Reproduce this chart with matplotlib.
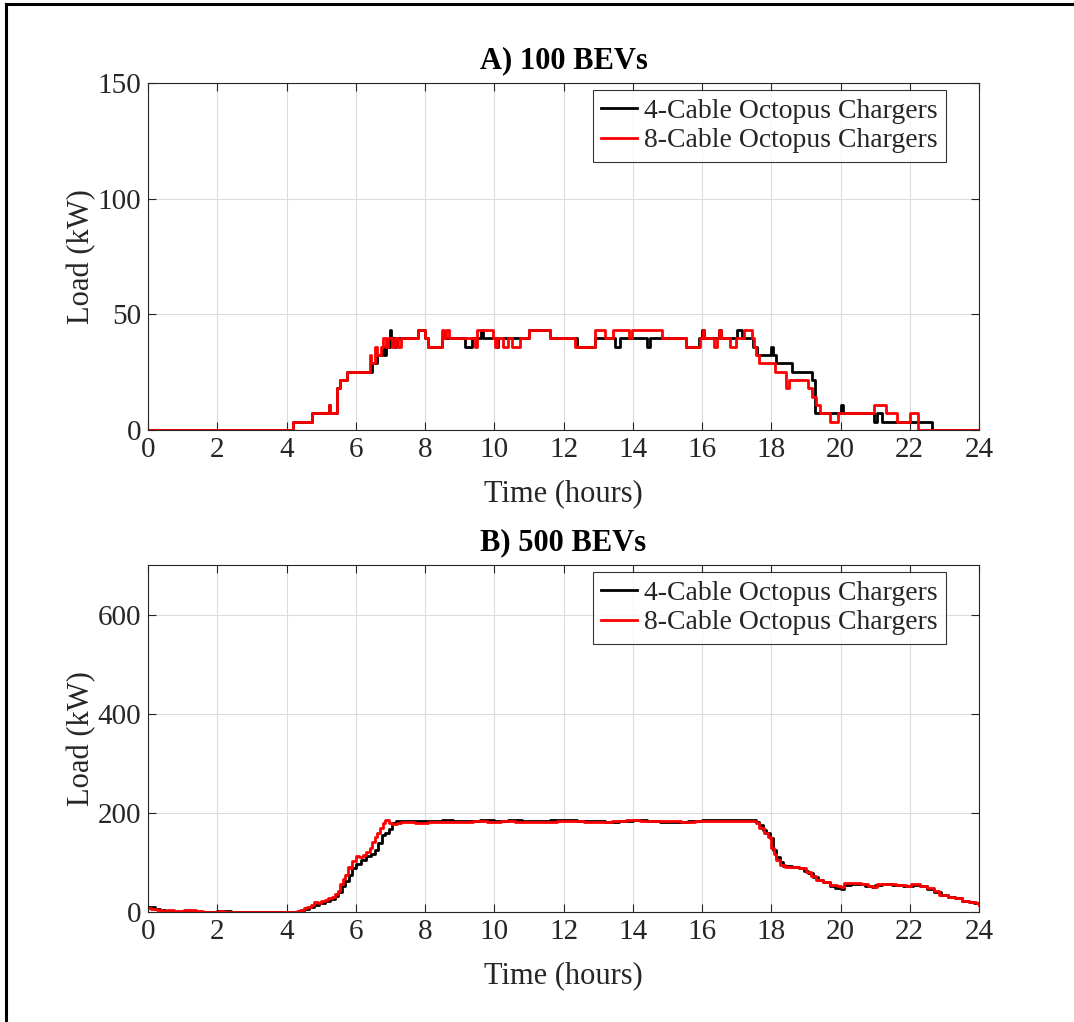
import numpy as np
import matplotlib
matplotlib.use("Agg")
import matplotlib.pyplot as plt
from matplotlib.lines import Line2D

plt.rcParams['font.family'] = ['Liberation Serif', 'DejaVu Serif']
plt.rcParams['mathtext.fontset'] = 'stix'

# ---------------- data ----------------
# A) 100 BEVs: change points (hour, kW), held until the next change
a_cable4_t = [0, 4.20, 4.73, 5.22, 5.27, 5.47, 5.55, 5.74, 6.46, 6.62, 6.75, 6.82, 6.88,
              6.98, 7.03, 7.10, 7.15, 7.81, 8.00, 8.09, 8.48, 9.15, 9.35, 9.62, 9.68,
              10.05, 10.10, 10.99, 11.61, 12.38, 12.92, 13.50, 13.62, 14.42, 14.50,
              15.54, 15.92, 16.00, 16.05, 16.50, 16.55, 17.00, 17.16, 17.46, 17.58,
              18.00, 18.06, 18.15, 18.60, 19.18, 19.26, 20.02, 20.06, 20.96, 21.04,
              21.20, 22.63, 24.0]
a_cable4_kw = [0, 3.6, 7.2, 10.8, 7.2, 18, 21.6, 25.2, 28.8, 32.4, 36, 32.4, 36,
               43.2, 39.6, 36, 39.6, 43.2, 39.6, 36, 39.6, 36, 39.6, 43.2, 39.6,
               36, 39.6, 43.2, 39.6, 36, 39.6, 36, 39.6, 36, 39.6,
               36, 39.6, 43.2, 39.6, 43.2, 39.6, 43.2, 39.6, 36, 32.4,
               36, 32.4, 28.8, 25.2, 21.6, 7.2, 10.8, 7.2, 3.6, 7.2,
               3.6, 0, 0]

a_cable8_t = [0, 4.20, 4.73, 5.22, 5.27, 5.47, 5.55, 5.74, 6.40, 6.45, 6.55, 6.62, 6.72,
              6.80, 6.86, 6.92, 7.05, 7.12, 7.22, 7.30, 7.81, 8.00, 8.09, 8.48, 8.50,
              8.56, 8.62, 8.68, 9.44, 9.50, 9.97, 10.02, 10.09, 10.24, 10.41, 10.50,
              10.74, 10.99, 11.61, 12.34, 12.92, 13.20, 13.42, 13.90, 13.97, 14.85,
              15.55, 15.95, 16.02, 16.07, 16.34, 16.43, 16.50, 16.55, 16.81, 16.97,
              17.22, 17.44, 17.50, 17.57, 17.64, 18.10, 18.44, 18.50, 19.06, 19.18,
              19.30, 19.42, 19.69, 19.93, 20.96, 21.30, 21.62, 22.00, 22.25, 24.0]
a_cable8_kw = [0, 3.6, 7.2, 10.8, 7.2, 18, 21.6, 25.2, 32.4, 28.8, 36, 32.4, 36,
               39.6, 36, 39.6, 36, 39.6, 36, 39.6, 43.2, 39.6, 36, 39.6, 43.2,
               39.6, 43.2, 39.6, 36, 43.2, 39.6, 36, 39.6, 36, 39.6, 36,
               39.6, 43.2, 39.6, 36, 43.2, 39.6, 43.2, 39.6, 43.2, 39.6,
               36, 39.6, 43.2, 39.6, 36, 39.6, 43.2, 39.6, 36, 39.6,
               43.2, 39.6, 36, 32.4, 28.8, 25.2, 18, 21.6, 18, 14.4,
               10.8, 7.2, 3.6, 7.2, 10.8, 7.2, 3.6, 7.2, 0, 0]

# B) 500 BEVs: change points (hour, kW)
b_cable4_t = [0, 0.10, 0.20, 0.35, 0.50, 0.75, 1.00, 1.30, 1.60, 2.00, 2.25, 2.40,
              4.25, 4.35, 4.50, 4.65, 4.80, 4.95, 5.10, 5.25, 5.40, 5.50, 5.60, 5.70,
              5.80, 5.90, 6.00, 6.15, 6.30, 6.45, 6.55, 6.65, 6.75, 6.85, 6.95, 7.05,
              7.15, 7.60, 8.00, 8.50, 8.80, 9.20, 9.60, 10.00, 10.40, 10.80, 11.20,
              11.60, 12.00, 12.40, 12.80, 13.20, 13.60, 14.00, 14.40, 14.80, 15.20,
              15.60, 16.00, 16.40, 16.80, 17.20, 17.45, 17.55, 17.65, 17.75, 17.85,
              17.95, 18.05, 18.15, 18.25, 18.35, 18.60, 18.80, 18.95, 19.05, 19.20,
              19.35, 19.50, 19.70, 19.85, 20.00, 20.10, 20.30, 20.50, 20.70, 20.90,
              21.00, 21.20, 21.50, 21.80, 22.00, 22.10, 22.30, 22.50, 22.70, 22.90,
              23.10, 23.30, 23.50, 23.70, 23.85, 24.0]
b_cable4_kw = [11, 10, 7, 5, 2, 1, 0, 1, 0, 2, 2, 0,
               0, 2, 6, 10, 15, 19, 23, 27, 33, 40, 52, 62,
               75, 88, 97, 104, 112, 118, 125, 140, 155, 160, 168, 180,
               184, 183, 184, 186, 184, 183, 185, 184, 186, 183, 184,
               186, 185, 183, 184, 182, 184, 186, 184, 182, 181,
               183, 185, 186, 185, 185, 185, 182, 175, 166, 160,
               150, 125, 110, 100, 93, 91, 88, 83, 78, 70,
               64, 60, 53, 48, 47, 55, 57, 56, 52, 50,
               55, 57, 55, 53, 52, 55, 52, 47, 40, 35,
               30, 28, 23, 20, 18, 16]

b_cable8_t = [0, 0.10, 0.25, 0.40, 0.55, 0.75, 0.95, 1.05, 1.25, 1.40, 1.60, 1.85,
              2.05, 2.20, 2.35, 4.20, 4.30, 4.40, 4.50, 4.60, 4.70, 4.80, 4.90, 5.00,
              5.10, 5.20, 5.30, 5.40, 5.48, 5.55, 5.62, 5.70, 5.77, 5.83, 5.90, 6.00,
              6.10, 6.20, 6.30, 6.40, 6.48, 6.55, 6.62, 6.70, 6.78, 6.85, 6.95, 7.05,
              7.20, 7.30, 7.70, 8.10, 8.50, 9.00, 9.40, 9.80, 10.20, 10.60, 11.00,
              11.40, 11.80, 12.20, 12.60, 13.00, 13.40, 13.80, 14.20, 14.60, 15.00,
              15.40, 15.80, 16.20, 16.60, 17.00, 17.45, 17.55, 17.65, 17.78, 17.90,
              18.00, 18.07, 18.15, 18.25, 18.40, 18.60, 18.80, 19.00, 19.15, 19.30,
              19.50, 19.70, 19.90, 20.00, 20.10, 20.40, 20.60, 20.80, 20.95, 21.05,
              21.30, 21.60, 21.90, 22.05, 22.30, 22.50, 22.70, 22.85, 23.10, 23.30,
              23.50, 23.70, 23.90, 24.0]
b_cable8_kw = [9, 7, 5, 3, 3.5, 2, 2, 4, 4, 2, 1, 1,
               3, 1, 0, 0, 3, 5, 9, 11, 14, 20, 18, 23,
               25, 28, 31, 36, 42, 56, 66, 75, 90, 88, 103, 113,
               110, 115, 121, 130, 142, 152, 160, 170, 180, 185, 180, 178,
               180, 182, 180, 181, 182, 181, 183, 182, 183, 182, 181,
               182, 184, 183, 182, 182, 183, 185, 183, 184, 183,
               182, 183, 184, 184, 184, 184, 180, 170, 160, 152,
               130, 118, 105, 94, 91, 90, 88, 80, 72, 65,
               60, 55, 52, 50, 58, 58, 56, 52, 50, 56,
               57, 55, 53, 57, 52, 48, 42, 35, 30, 28,
               22, 20, 18, 15]

hour_ticks = list(range(0, 25, 2))
series_labels = ['4-Cable Octopus Chargers', '8-Cable Octopus Chargers']

panels = [
    dict(title='A) 100 BEVs', ylim=(0, 150), yticks=[0, 50, 100, 150],
         c4=(a_cable4_t, a_cable4_kw), c8=(a_cable8_t, a_cable8_kw)),
    dict(title='B) 500 BEVs', ylim=(0, 700), yticks=[0, 200, 400, 600],
         c4=(b_cable4_t, b_cable4_kw), c8=(b_cable8_t, b_cable8_kw)),
]

# ---------------- figure ----------------
W, H = 1074, 1022
fig = plt.figure(figsize=(W / 100, H / 100), dpi=100)
txt = '#262626'
tick_fs = 21
label_fs = 22

ax_left, ax_right = 148, 979
ax_rows = [(83, 430), (565, 912)]  # (top, bottom) in pixels

for (top, bottom), p in zip(ax_rows, panels):
    ax = fig.add_axes((ax_left / W, 1 - bottom / H,
                       (ax_right - ax_left) / W, (bottom - top) / H))
    ax.plot(p['c4'][0], p['c4'][1], drawstyle='steps-post', color='black',
            lw=2.0, label=series_labels[0])
    ax.plot(p['c8'][0], p['c8'][1], drawstyle='steps-post', color='#ff0000',
            lw=2.0, label=series_labels[1])
    ax.set_xlim(0, 24)
    ax.set_ylim(*p['ylim'])
    ax.set_xticks(hour_ticks)
    ax.set_yticks(p['yticks'])
    ax.grid(True, color='#dcdcdc', lw=0.8)
    ax.set_axisbelow(True)
    ax.tick_params(direction='in', top=True, right=True, length=6, width=0.8,
                   colors=txt, labelsize=tick_fs, pad=5)
    for s in ax.spines.values():
        s.set_color(txt)
        s.set_linewidth(0.8)
    ax.set_title(p['title'], fontsize=label_fs, fontweight='bold', color='black', pad=11)
    ax.set_xlabel('Time (hours)', fontsize=label_fs, color=txt, labelpad=12)
    ax.set_ylabel('Load (kW)', fontsize=label_fs, color=txt, labelpad=1)
    # legend box anchored with its upper right corner 33 px left / 7 px below the axes corner
    h_px = bottom - top
    w_px = ax_right - ax_left
    leg = ax.legend(loc='upper right', fontsize=20, frameon=True, fancybox=False,
                    handlelength=1.3, handletextpad=0.25, borderpad=0.3,
                    labelspacing=0.15, borderaxespad=0,
                    bbox_to_anchor=(1 - 33 / w_px, 1 - 7 / h_px))
    leg.get_frame().set_edgecolor('black')
    leg.get_frame().set_linewidth(0.8)
    for t in leg.get_texts():
        t.set_color(txt)

# outer frame on the left and top edges
fig.add_artist(Line2D([6 / W, 6 / W], [0, 1 - 4 / H], color='black', lw=2.2,
                      transform=fig.transFigure))
fig.add_artist(Line2D([6 / W, 1], [1 - 4 / H, 1 - 4 / H], color='black', lw=2.2,
                      transform=fig.transFigure))

fig.savefig('out.png', dpi=100, facecolor='white')
